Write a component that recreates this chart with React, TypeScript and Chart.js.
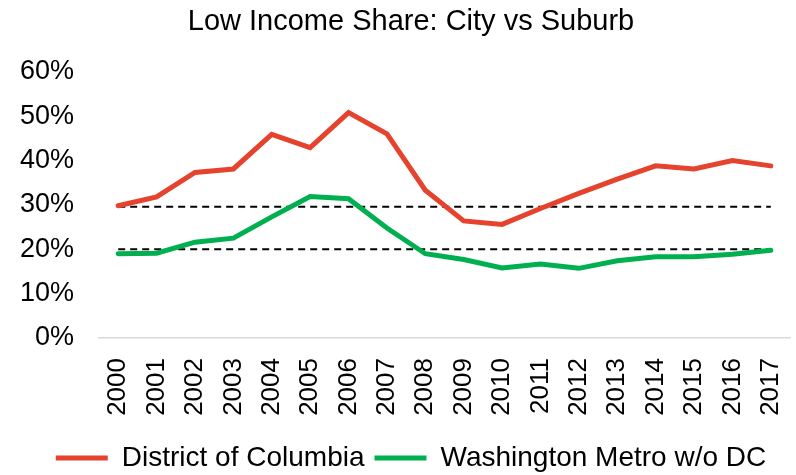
import React, { useEffect, useRef } from "react";
import { Chart, registerables } from "chart.js";

Chart.register(...registerables);

const years = [
  "2000", "2001", "2002", "2003", "2004", "2005", "2006", "2007", "2008",
  "2009", "2010", "2011", "2012", "2013", "2014", "2015", "2016", "2017",
];
const dcValues = [
  29.8, 31.8, 37.3, 38.1, 45.9, 42.9, 50.8, 46.0, 33.3,
  26.4, 25.6, 29.2, 32.6, 35.8, 38.8, 38.1, 40.0, 38.8,
];
const metroValues = [
  19.0, 19.1, 21.6, 22.5, 27.3, 31.9, 31.4, 24.8, 19.0,
  17.7, 15.8, 16.7, 15.7, 17.4, 18.3, 18.3, 18.9, 19.8,
];
const referenceLevels = [29.6, 20.0];
const seriesNames = ["District of Columbia", "Washington Metro w/o DC"];
const titleText = "Low Income Share: City vs Suburb";

const FONT = "'Liberation Sans', Arial, sans-serif";
const RED = "#E5432D";
const GREEN = "#00B050";

// shifts the centred title and legend a little to the right, as in the reference
const shiftPlugin = {
  id: "shiftTitleLegend",
  afterLayout(chart: any) {
    if (chart.titleBlock) chart.titleBlock.left += 32;
    if (chart.legend) chart.legend.left += 32;
  },
};

export default function App() {
  const ref = useRef<HTMLCanvasElement | null>(null);

  useEffect(() => {
    if (!ref.current) return;
    const refDatasets = referenceLevels.map((lvl, i) => ({
      label: "ref" + i,
      data: years.map(() => lvl),
      borderColor: "#000000",
      backgroundColor: "#000000",
      borderWidth: 2,
      borderDash: [7, 5],
      pointRadius: 0,
    }));
    const chart = new Chart(ref.current, {
      type: "line",
      plugins: [shiftPlugin],
      data: {
        labels: years,
        datasets: [
          {
            label: seriesNames[0],
            data: dcValues,
            borderColor: RED,
            backgroundColor: RED,
            borderWidth: 5,
            pointRadius: 0,
            borderCapStyle: "round",
          },
          {
            label: seriesNames[1],
            data: metroValues,
            borderColor: GREEN,
            backgroundColor: GREEN,
            borderWidth: 5,
            pointRadius: 0,
            borderCapStyle: "round",
          },
          ...refDatasets,
        ] as any,
      },
      options: {
        responsive: false,
        animation: false,
        layout: { padding: { left: 0, right: 6, top: 0, bottom: -7 } },
        elements: { line: { tension: 0 } },
        plugins: {
          tooltip: { enabled: false },
          title: {
            display: true,
            text: titleText,
            color: "#000",
            font: { family: FONT, size: 29, weight: "normal" },
            padding: { top: 5, bottom: 32 },
          },
          legend: {
            position: "bottom",
            labels: {
              color: "#000",
              font: { family: FONT, size: 28 },
              boxWidth: 52,
              boxHeight: 5,
              padding: 10,
              filter: (item: any) => item.datasetIndex < 2,
              generateLabels: (c: any) =>
                c.data.datasets.map((d: any, i: number) => ({
                  text: d.label,
                  fillStyle: d.borderColor,
                  strokeStyle: d.borderColor,
                  lineWidth: 0,
                  datasetIndex: i,
                  hidden: false,
                  fontColor: "#000",
                })),
            },
          },
        },
        scales: {
          x: {
            offset: true,
            grid: { display: false, drawTicks: false },
            border: { display: true, color: "#d9d9d9", width: 1.5 },
            ticks: {
              color: "#000",
              font: { family: FONT, size: 26 },
              minRotation: 90,
              maxRotation: 90,
              autoSkip: false,
              padding: 20,
            },
            afterFit: (s: any) => {
              s.height = 96;
              s.paddingLeft = 0;
              s.paddingRight = 0;
            },
          },
          y: {
            min: 0,
            max: 60,
            grid: { display: false, drawTicks: false },
            border: { display: false },
            ticks: {
              stepSize: 10,
              color: "#000",
              font: { family: FONT, size: 27 },
              padding: 25,
              callback: (v: any) => v + "%",
            },
            afterFit: (s: any) => {
              s.width = 99;
            },
          },
        },
      } as any,
    });
    return () => chart.destroy();
  }, []);

  return (
    <div style={{ position: "absolute", left: 0, top: 0, width: 796, height: 475, overflow: "hidden", background: "#fff" }}>
      <canvas ref={ref} width={796} height={475} />
    </div>
  );
}
